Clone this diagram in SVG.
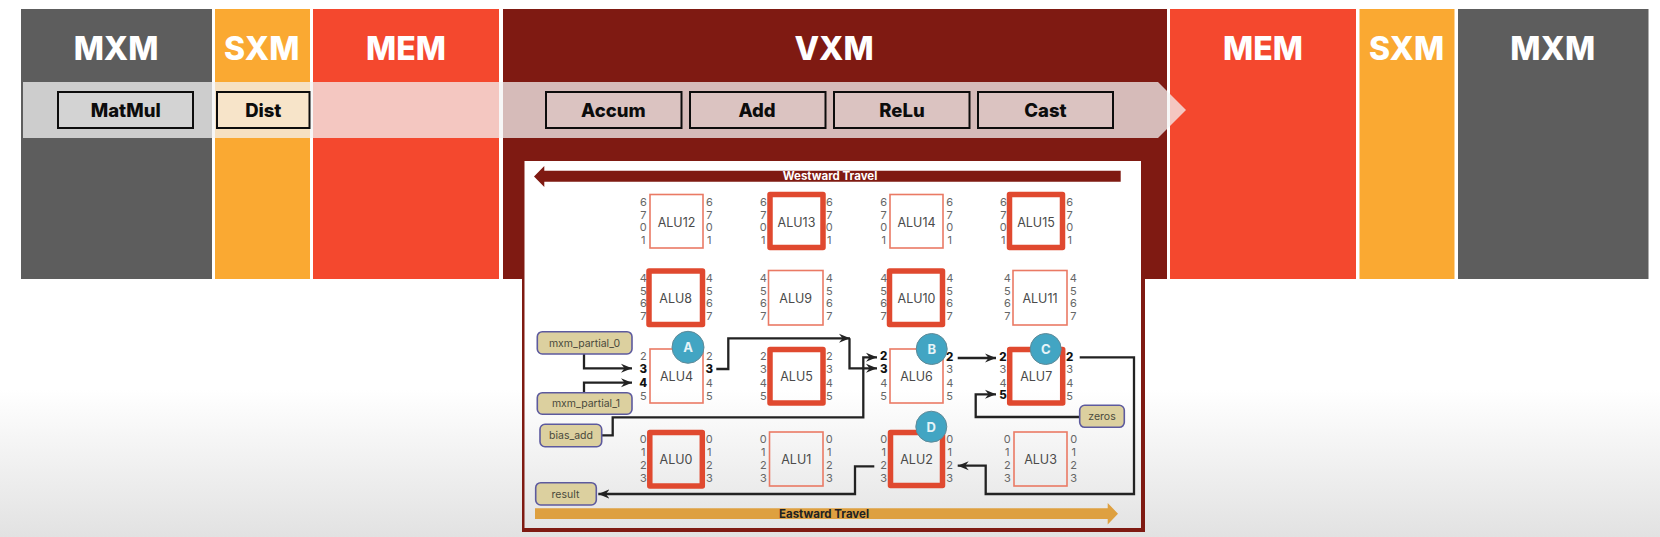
<svg xmlns="http://www.w3.org/2000/svg" width="1660" height="537" viewBox="0 0 1660 537">
<style>
text{font-family:Inter,"Liberation Sans",Arial,sans-serif;text-anchor:middle}
.title{font-size:32px;font-weight:800;fill:#fff}
.op{font-size:18.5px;font-weight:800;fill:#0c0c0c}
.opbox{fill:#fff;fill-opacity:.12;stroke:#0c0c0c;stroke-width:2}
.thin{fill:none;stroke:#ea7a64;stroke-width:1.6}
.thick{fill:none;stroke:#e0492f;stroke-width:5.5;stroke-linejoin:round}
.alu{font-size:12.5px;fill:#4a4a4a}
.d{font-size:11px;fill:#666}
.b{font-size:11.5px;font-weight:800;fill:#111}
.tag{fill:#dcd09f;stroke:#5d5a9e;stroke-width:1.6}
.tagt{font-size:10.5px;fill:#4a4a3c}
.circ{fill:#42a5c3;stroke:#5f8a98;stroke-width:1}
.ct{font-size:13px;font-weight:700;fill:#e6f4f8}
.c{fill:none;stroke:#222;stroke-width:2.3;marker-end:url(#ah)}
</style>
<defs>
<linearGradient id="bg" gradientUnits="userSpaceOnUse" x1="0" y1="390" x2="0" y2="537">
<stop offset="0" stop-color="#fff"/><stop offset="1" stop-color="#e2e2e2"/>
</linearGradient>
<marker id="ah" markerUnits="userSpaceOnUse" markerWidth="14" markerHeight="12" refX="11" refY="6" orient="auto">
<polygon points="0,1.5 11,6 0,10.5 3.5,6" fill="#222"/>
</marker>
</defs>
<rect width="1660" height="537" fill="url(#bg)"/>
<g id="columns">
<g id="col-mxm-l"><rect x="21" y="9" width="191" height="270" fill="#5d5d5d"/><text class="title" x="116" y="59.5">MXM</text></g>
<g id="col-sxm-l"><rect x="215" y="9" width="95" height="270" fill="#faa932"/><text class="title" x="261.7" y="59.5">SXM</text></g>
<g id="col-mem-l"><rect x="313" y="9" width="186" height="270" fill="#f4482e"/><text class="title" x="406" y="59.5">MEM</text></g>
<g id="col-vxm"><rect x="503" y="9" width="664" height="270" fill="#7f1a12"/><text class="title" x="834" y="59.5">VXM</text></g>
<g id="col-mem-r"><rect x="1170" y="9" width="186" height="270" fill="#f4482e"/><text class="title" x="1263" y="59.5">MEM</text></g>
<g id="col-sxm-r"><rect x="1359.5" y="9" width="95" height="270" fill="#faa932"/><text class="title" x="1406.5" y="59.5">SXM</text></g>
<g id="col-mxm-r"><rect x="1458" y="9" width="190.500" height="270" fill="#5d5d5d"/><text class="title" x="1552.7" y="59.5">MXM</text></g>
</g>
<polygon id="flow-arrow" points="23,82 1158,82 1186,110 1158,138 23,138" fill="#f4f4f4" fill-opacity=".74"/>
<g id="ops">
<g id="op-matmul"><rect class="opbox" x="58" y="92" width="135" height="36"/><text class="op" x="125.700" y="116.500">MatMul</text></g>
<g id="op-dist"><rect class="opbox" x="217" y="92" width="92.500" height="36"/><text class="op" x="263.300" y="116.500">Dist</text></g>
<g id="op-accum"><rect class="opbox" x="546" y="92" width="135.500" height="36"/><text class="op" x="613.400" y="116.500">Accum</text></g>
<g id="op-add"><rect class="opbox" x="690" y="92" width="135.500" height="36"/><text class="op" x="757" y="116.500">Add</text></g>
<g id="op-relu"><rect class="opbox" x="834" y="92" width="135.500" height="36"/><text class="op" x="902" y="116.500">ReLu</text></g>
<g id="op-cast"><rect class="opbox" x="978" y="92" width="135" height="36"/><text class="op" x="1045.500" y="116.500">Cast</text></g>
</g>
<g id="panel">
<rect x="522" y="161" width="623" height="371" fill="#7f1a12"/>
<rect x="524.500" y="161" width="616.500" height="367" fill="url(#bg)"/>
<g id="westward"><polygon points="534,176.500 544.300,166 544.300,170.700 1120.700,170.700 1120.700,181.700 544.300,181.700 544.300,187" fill="#7f1a12"/><text x="830" y="180.300" font-size="11.500" font-weight="700" fill="#fff">Westward Travel</text></g>
<g id="eastward"><polygon points="535,508.300 1107.700,508.300 1107.700,503 1118,513.700 1107.700,524.500 1107.700,519 535,519" fill="#dea040"/><text x="824" y="517.500" font-size="11.500" font-weight="700" fill="#222">Eastward Travel</text></g>
</g>
<g id="connectors">
<path class="c" d="M584 354V368.300H632"/>
<path class="c" d="M584 392.700V382.700H632"/>
<path class="c" d="M716.300 369H728.300V338.300H850"/>
<path class="c" d="M849.500 338.300V368.300H877"/>
<path class="c" d="M601.700 435.300H612.700V417.300H863.300V357.300H877"/>
<path class="c" d="M957.700 358H996"/>
<path class="c" d="M1079.700 417H975.700V394.300H996"/>
<path class="c" d="M1079.700 357.300H1134V494H985.700V465.700H957.700"/>
<path class="c" d="M874.300 466.300H855V494H598.300"/>
</g>
<g id="alu12"><rect class="thin" x="650" y="194.500" width="53" height="53.500"/><text class="alu" x="676.500" y="226.500">ALU12</text><text class="d" x="643.300" y="206">6</text><text class="d" x="643.300" y="218.500">7</text><text class="d" x="643.300" y="231">0</text><text class="d" x="643.300" y="244">1</text><text class="d" x="709.300" y="206">6</text><text class="d" x="709.300" y="218.500">7</text><text class="d" x="709.300" y="231">0</text><text class="d" x="709.300" y="244">1</text></g>
<g id="alu13"><rect class="thick" x="770" y="194.500" width="53" height="53"/><text class="alu" x="796.500" y="226.500">ALU13</text><text class="d" x="763.300" y="206">6</text><text class="d" x="763.300" y="218.500">7</text><text class="d" x="763.300" y="231">0</text><text class="d" x="763.300" y="244">1</text><text class="d" x="829.300" y="206">6</text><text class="d" x="829.300" y="218.500">7</text><text class="d" x="829.300" y="231">0</text><text class="d" x="829.300" y="244">1</text></g>
<g id="alu14"><rect class="thin" x="890" y="194.500" width="53" height="53.500"/><text class="alu" x="916.500" y="226.500">ALU14</text><text class="d" x="883.700" y="206">6</text><text class="d" x="883.700" y="218.500">7</text><text class="d" x="883.700" y="231">0</text><text class="d" x="883.700" y="244">1</text><text class="d" x="949.700" y="206">6</text><text class="d" x="949.700" y="218.500">7</text><text class="d" x="949.700" y="231">0</text><text class="d" x="949.700" y="244">1</text></g>
<g id="alu15"><rect class="thick" x="1009.500" y="194.500" width="53" height="53"/><text class="alu" x="1036" y="226.500">ALU15</text><text class="d" x="1003.300" y="206">6</text><text class="d" x="1003.300" y="218.500">7</text><text class="d" x="1003.300" y="231">0</text><text class="d" x="1003.300" y="244">1</text><text class="d" x="1069.700" y="206">6</text><text class="d" x="1069.700" y="218.500">7</text><text class="d" x="1069.700" y="231">0</text><text class="d" x="1069.700" y="244">1</text></g>
<g id="alu8"><rect class="thick" x="649" y="271" width="53.500" height="53.500"/><text class="alu" x="675.700" y="302.500">ALU8</text><text class="d" x="643.300" y="282">4</text><text class="d" x="643.300" y="294.500">5</text><text class="d" x="643.300" y="307">6</text><text class="d" x="643.300" y="320">7</text><text class="d" x="709.300" y="282">4</text><text class="d" x="709.300" y="294.500">5</text><text class="d" x="709.300" y="307">6</text><text class="d" x="709.300" y="320">7</text></g>
<g id="alu9"><rect class="thin" x="768.500" y="270.500" width="54.500" height="54.500"/><text class="alu" x="795.700" y="302.500">ALU9</text><text class="d" x="763.300" y="282">4</text><text class="d" x="763.300" y="294.500">5</text><text class="d" x="763.300" y="307">6</text><text class="d" x="763.300" y="320">7</text><text class="d" x="829.300" y="282">4</text><text class="d" x="829.300" y="294.500">5</text><text class="d" x="829.300" y="307">6</text><text class="d" x="829.300" y="320">7</text></g>
<g id="alu10"><rect class="thick" x="889.500" y="271" width="53" height="53.500"/><text class="alu" x="916.500" y="302.500">ALU10</text><text class="d" x="883.700" y="282">4</text><text class="d" x="883.700" y="294.500">5</text><text class="d" x="883.700" y="307">6</text><text class="d" x="883.700" y="320">7</text><text class="d" x="949.700" y="282">4</text><text class="d" x="949.700" y="294.500">5</text><text class="d" x="949.700" y="307">6</text><text class="d" x="949.700" y="320">7</text></g>
<g id="alu11"><rect class="thin" x="1013" y="270.500" width="54" height="54.500"/><text class="alu" x="1040" y="302.500">ALU11</text><text class="d" x="1007.300" y="282">4</text><text class="d" x="1007.300" y="294.500">5</text><text class="d" x="1007.300" y="307">6</text><text class="d" x="1007.300" y="320">7</text><text class="d" x="1073.300" y="282">4</text><text class="d" x="1073.300" y="294.500">5</text><text class="d" x="1073.300" y="307">6</text><text class="d" x="1073.300" y="320">7</text></g>
<g id="alu4"><rect class="thin" x="650" y="349" width="53" height="54"/><text class="alu" x="676.500" y="381">ALU4</text><text class="d" x="643.300" y="359.500">2</text><text class="b" x="643.300" y="373">3</text><text class="b" x="643.300" y="386.500">4</text><text class="d" x="643.300" y="399.500">5</text><text class="d" x="709.300" y="359.500">2</text><text class="b" x="709.300" y="373">3</text><text class="d" x="709.300" y="386.500">4</text><text class="d" x="709.300" y="399.500">5</text></g>
<g id="alu5"><rect class="thick" x="770" y="349.500" width="53" height="53.500"/><text class="alu" x="796.500" y="381">ALU5</text><text class="d" x="763.300" y="359.500">2</text><text class="d" x="763.300" y="373">3</text><text class="d" x="763.300" y="386.500">4</text><text class="d" x="763.300" y="399.500">5</text><text class="d" x="829.300" y="359.500">2</text><text class="d" x="829.300" y="373">3</text><text class="d" x="829.300" y="386.500">4</text><text class="d" x="829.300" y="399.500">5</text></g>
<g id="alu6"><rect class="thin" x="890" y="349" width="53" height="54"/><text class="alu" x="916.500" y="381">ALU6</text><text class="b" x="883.700" y="360">2</text><text class="b" x="883.700" y="373">3</text><text class="d" x="883.700" y="386.500">4</text><text class="d" x="883.700" y="399.500">5</text><text class="b" x="949.700" y="361">2</text><text class="d" x="949.700" y="373">3</text><text class="d" x="949.700" y="386.500">4</text><text class="d" x="949.700" y="399.500">5</text></g>
<g id="alu7"><rect class="thick" x="1009.700" y="349.500" width="53" height="53.500"/><text class="alu" x="1036.200" y="381">ALU7</text><text class="b" x="1003" y="360.500">2</text><text class="d" x="1003" y="373">3</text><text class="d" x="1003" y="386.500">4</text><text class="b" x="1003" y="398.700">5</text><text class="b" x="1069.700" y="361">2</text><text class="d" x="1069.700" y="373">3</text><text class="d" x="1069.700" y="386.500">4</text><text class="d" x="1069.700" y="399.500">5</text></g>
<g id="alu0"><rect class="thick" x="649.800" y="432.500" width="52.500" height="53.500"/><text class="alu" x="676" y="464">ALU0</text><text class="d" x="643.300" y="443.300">0</text><text class="d" x="643.300" y="456">1</text><text class="d" x="643.300" y="469">2</text><text class="d" x="643.300" y="482">3</text><text class="d" x="709.300" y="443.300">0</text><text class="d" x="709.300" y="456">1</text><text class="d" x="709.300" y="469">2</text><text class="d" x="709.300" y="482">3</text></g>
<g id="alu1"><rect class="thin" x="769.500" y="432" width="53.500" height="54"/><text class="alu" x="796.300" y="464">ALU1</text><text class="d" x="763.300" y="443.300">0</text><text class="d" x="763.300" y="456">1</text><text class="d" x="763.300" y="469">2</text><text class="d" x="763.300" y="482">3</text><text class="d" x="829.300" y="443.300">0</text><text class="d" x="829.300" y="456">1</text><text class="d" x="829.300" y="469">2</text><text class="d" x="829.300" y="482">3</text></g>
<g id="alu2"><rect class="thick" x="890.500" y="432.500" width="52" height="53"/><text class="alu" x="916.500" y="464">ALU2</text><text class="d" x="883.700" y="443.300">0</text><text class="d" x="883.700" y="456">1</text><text class="d" x="883.700" y="469">2</text><text class="d" x="883.700" y="482">3</text><text class="d" x="949.700" y="443.300">0</text><text class="d" x="949.700" y="456">1</text><text class="d" x="949.700" y="469">2</text><text class="d" x="949.700" y="482">3</text></g>
<g id="alu3"><rect class="thin" x="1014" y="432" width="53" height="54"/><text class="alu" x="1040.500" y="464">ALU3</text><text class="d" x="1007.300" y="443.300">0</text><text class="d" x="1007.300" y="456">1</text><text class="d" x="1007.300" y="469">2</text><text class="d" x="1007.300" y="482">3</text><text class="d" x="1073.700" y="443.300">0</text><text class="d" x="1073.700" y="456">1</text><text class="d" x="1073.700" y="469">2</text><text class="d" x="1073.700" y="482">3</text></g>
<g id="tag-mxm0"><rect class="tag" x="537.300" y="331.700" width="94.700" height="22.300" rx="5"/><text class="tagt" x="584.500" y="346.500">mxm_partial_0</text></g>
<g id="tag-mxm1"><rect class="tag" x="537.300" y="392.700" width="94.700" height="21.500" rx="5"/><text class="tagt" x="586" y="407">mxm_partial_1</text></g>
<g id="tag-bias"><rect class="tag" x="540" y="424.300" width="61.700" height="22.400" rx="5"/><text class="tagt" x="571" y="439">bias_add</text></g>
<g id="tag-result"><rect class="tag" x="535.700" y="482.700" width="60.600" height="22.300" rx="5"/><text class="tagt" x="565.500" y="497.500">result</text></g>
<g id="tag-zeros"><rect class="tag" x="1079.700" y="405.300" width="44.600" height="22" rx="5"/><text class="tagt" x="1102" y="420">zeros</text></g>
<g id="badge-a"><circle class="circ" cx="688" cy="347.300" r="16"/><text class="ct" x="688" y="352">A</text></g>
<g id="badge-b"><circle class="circ" cx="931.700" cy="349" r="15.500"/><text class="ct" x="931.700" y="354">B</text></g>
<g id="badge-c"><circle class="circ" cx="1045.700" cy="349" r="15.500"/><text class="ct" x="1045.700" y="354">C</text></g>
<g id="badge-d"><circle class="circ" cx="931.300" cy="426.700" r="15.500"/><text class="ct" x="931.300" y="431.500">D</text></g>
</svg>
